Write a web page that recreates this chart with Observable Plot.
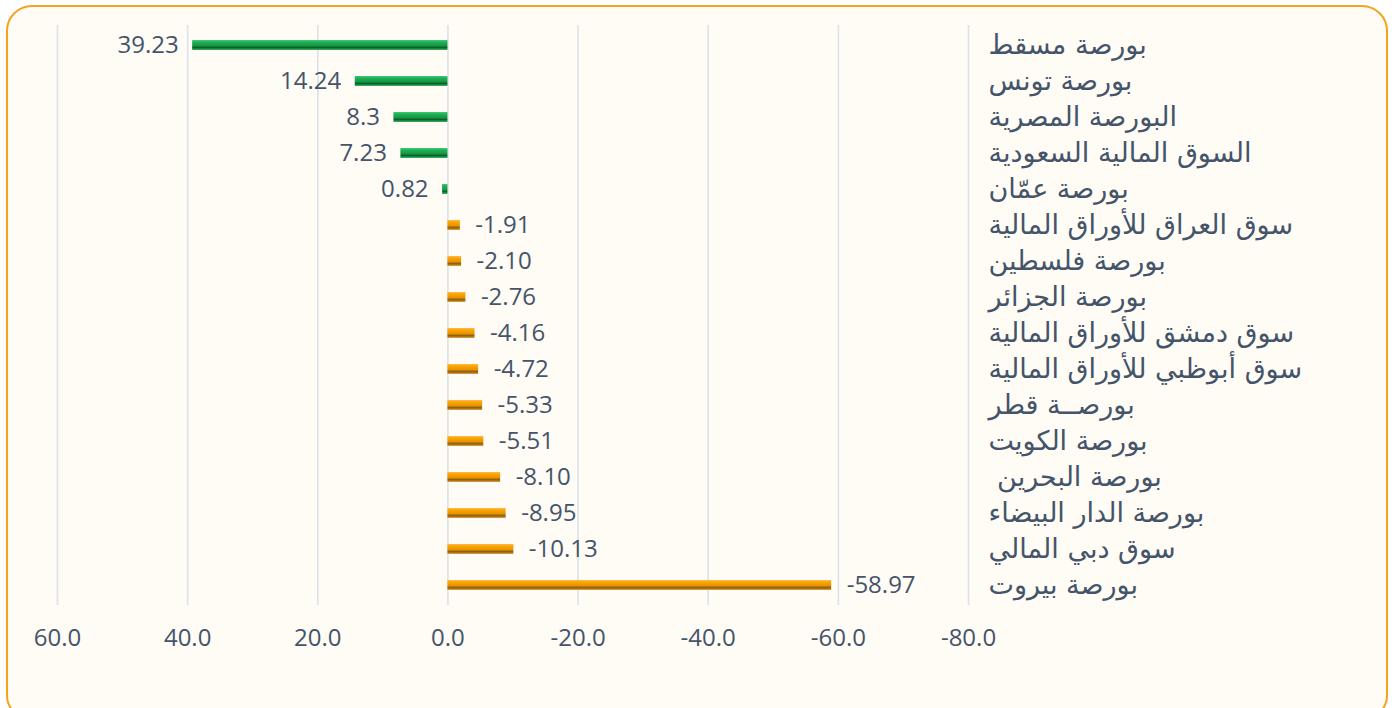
<!DOCTYPE html>
<html>
<head>
<meta charset="utf-8">
<script src="https://cdn.jsdelivr.net/npm/d3@7"></script>
<script src="https://cdn.jsdelivr.net/npm/@observablehq/plot@0.6"></script>
<style>
  html, body { margin: 0; padding: 0; background: #ffffff; }
  #wrap { position: relative; width: 1394px; height: 708px; overflow: hidden; background: #ffffff; }
  #frame { position: absolute; left: 6px; top: 5px; width: 1378px; height: 712px; border: 2px solid #F4A31E; border-radius: 26px; background: #FFFBF5; }
  #chart { position: absolute; left: 0; top: 0; }
</style>
</head>
<body>
<div id="wrap">
  <div id="frame"></div>
  <div id="chart"></div>
</div>
<script>
const categories = [
  "بورصة مسقط",
  "بورصة تونس",
  "البورصة المصرية",
  "السوق المالية السعودية",
  "بورصة عمّان",
  "سوق العراق للأوراق المالية",
  "بورصة فلسطين",
  "بورصة الجزائر",
  "سوق دمشق للأوراق المالية",
  "سوق أبوظبي للأوراق المالية",
  "بورصــة قطر",
  "بورصة الكويت",
  " بورصة البحرين",
  "بورصة الدار البيضاء",
  "سوق دبي المالي",
  "بورصة بيروت"
];
const values = [39.23, 14.24, 8.3, 7.23, 0.82, -1.91, -2.10, -2.76, -4.16, -4.72, -5.33, -5.51, -8.10, -8.95, -10.13, -58.97];
const valueLabels = ["39.23", "14.24", "8.3", "7.23", "0.82", "-1.91", "-2.10", "-2.76", "-4.16", "-4.72", "-5.33", "-5.51", "-8.10", "-8.95", "-10.13", "-58.97"];
const xTicks = [60, 40, 20, 0, -20, -40, -60, -80];

const data = categories.map((c, i) => ({cat: c, value: values[i], label: valueLabels[i]}));
const pos = data.filter(d => d.value >= 0);
const neg = data.filter(d => d.value < 0);

const textColor = "#44546A";

const svg = Plot.plot({
  width: 1394,
  height: 708,
  marginTop: 25,
  marginBottom: 103,
  marginLeft: 57,
  marginRight: 426,
  style: {background: "transparent", fontFamily: "'Open Sans', sans-serif", fontSize: "20px", color: textColor},
  x: {domain: [60, -80]},
  y: {domain: categories, padding: 0},
  marks: [
    Plot.gridX(xTicks, {stroke: "#DCE1EA", strokeOpacity: 1, strokeWidth: 1.6}),
    Plot.barX(pos, {x1: 0, x2: "value", y: "cat", fill: "url(#gGreen)", insetTop: 13, insetBottom: 13}),
    Plot.barX(neg, {x1: 0, x2: "value", y: "cat", fill: "url(#gOrange)", insetTop: 13, insetBottom: 13}),
    Plot.text(pos, {x: "value", y: "cat", text: "label", textAnchor: "end", dx: -14, fill: textColor, fontSize: 24}),
    Plot.text(neg, {x: "value", y: "cat", text: "label", textAnchor: "start", dx: 15, fill: textColor, fontSize: 24}),
    Plot.axisX({ticks: xTicks, tickFormat: d => d.toFixed(1), tickSize: 0, tickPadding: 23, fontSize: 24, fill: textColor, label: null}),
    Plot.axisY({anchor: "right", tickSize: 0, tickPadding: 20, textAnchor: "start", fontSize: 27, fill: textColor, label: null, fontFamily: "'DejaVu Sans', sans-serif"})
  ]
});

const ns = "http://www.w3.org/2000/svg";
const defs = document.createElementNS(ns, "defs");
function grad(id, stops) {
  const g = document.createElementNS(ns, "linearGradient");
  g.setAttribute("id", id);
  g.setAttribute("x1", "0"); g.setAttribute("y1", "0");
  g.setAttribute("x2", "0"); g.setAttribute("y2", "1");
  for (const [o, c] of stops) {
    const s = document.createElementNS(ns, "stop");
    s.setAttribute("offset", o);
    s.setAttribute("stop-color", c);
    g.appendChild(s);
  }
  defs.appendChild(g);
}
grad("gGreen", [["0%", "#4CC57A"], ["20%", "#1DB257"], ["55%", "#149A44"], ["75%", "#0B6128"], ["100%", "#3AB465"]]);
grad("gOrange", [["0%", "#F6BE5C"], ["20%", "#FFA500"], ["55%", "#E69400"], ["78%", "#8A5B0E"], ["100%", "#E6A443"]]);
svg.insertBefore(defs, svg.firstChild);

document.getElementById("chart").appendChild(svg);
</script>
</body>
</html>
